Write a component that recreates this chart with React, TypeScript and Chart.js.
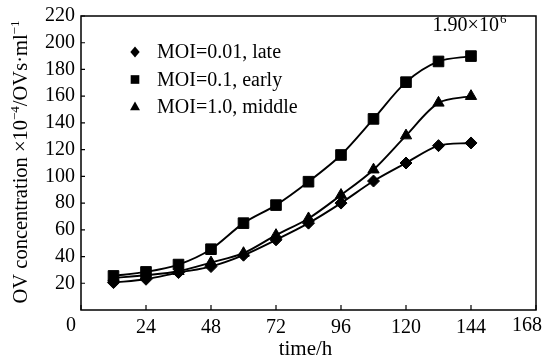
import React, { useEffect, useRef } from "react";
import { Chart, registerables } from "chart.js";

Chart.register(...registerables);

const timesH = [12, 24, 36, 48, 60, 72, 84, 96, 108, 120, 132, 144];
const moiLate = [20.5, 23, 28, 32.5, 41, 52.5, 65, 80, 96.5, 110, 123, 125];
const moiEarly = [25.5, 28.5, 34, 45.5, 65, 78.5, 96, 116, 143, 170.5, 186, 190];
const moiMiddle = [24, 26, 29, 35.5, 42.5, 56, 68.5, 86, 105, 130.5, 155, 160];
const seriesLabels = ["MOI=0.01, late", "MOI=0.1, early", "MOI=1.0, middle"];
const xTicks = [0, 24, 48, 72, 96, 120, 144, 168];
const yTicks = [20, 40, 60, 80, 100, 120, 140, 160, 180, 200, 220];
const xTitle = "time/h";
const peakNote = { base: "1.90×10", sup: "6" };

const FONT = "'Liberation Serif', 'Times New Roman', serif";

function drawMarker(ctx: CanvasRenderingContext2D, style: string, x: number, y: number, r: number) {
  ctx.beginPath();
  if (style === "rect") {
    ctx.rect(x - r * 0.72, y - r * 0.72, r * 1.44, r * 1.44);
  } else if (style === "rectRot") {
    ctx.moveTo(x, y - r);
    ctx.lineTo(x + r * 0.85, y);
    ctx.lineTo(x, y + r);
    ctx.lineTo(x - r * 0.85, y);
    ctx.closePath();
  } else {
    ctx.moveTo(x, y - r);
    ctx.lineTo(x + r * 0.9, y + r * 0.6);
    ctx.lineTo(x - r * 0.9, y + r * 0.6);
    ctx.closePath();
  }
  ctx.fill();
}

const overlay = {
  id: "overlay",
  afterDraw(chart: any) {
    const { ctx, chartArea: a, scales } = chart;
    const xs = scales.x;
    const ys = scales.y;
    ctx.save();
    // frame
    ctx.strokeStyle = "#000";
    ctx.lineWidth = 1.5;
    ctx.strokeRect(a.left, a.top, a.right - a.left, a.bottom - a.top);
    // inward ticks
    ctx.lineWidth = 1.2;
    ctx.beginPath();
    xTicks.forEach((t) => {
      const px = xs.getPixelForValue(t);
      ctx.moveTo(px, a.bottom);
      ctx.lineTo(px, a.bottom - 5);
    });
    yTicks.forEach((t) => {
      const py = ys.getPixelForValue(t);
      ctx.moveTo(a.left, py);
      ctx.lineTo(a.left + 4, py);
    });
    ctx.stroke();

    // corner labels "0" and last x label
    ctx.fillStyle = "#000";
    ctx.font = `20px ${FONT}`;
    ctx.textAlign = "right";
    ctx.textBaseline = "middle";
    ctx.fillText("0", a.left - 5, a.bottom + 16);
    ctx.textAlign = "center";
    ctx.fillText(String(xTicks[xTicks.length - 1]), xs.getPixelForValue(xTicks[xTicks.length - 1]) - 9, a.bottom + 16);

    // x-axis title
    ctx.font = `21px ${FONT}`;
    ctx.textAlign = "center";
    ctx.fillText(xTitle, (a.left + a.right) / 2 - 3, 349);

    // legend
    const legendX = 135;
    const legendY0 = 52;
    const rowH = 27.5;
    chart.data.datasets.forEach((ds: any, i: number) => {
      const y = legendY0 + i * rowH;
      ctx.fillStyle = "#000";
      const r = ds.pointStyle === "rect" ? 6 : 5.5;
      drawMarker(ctx, ds.pointStyle, legendX, y, r);
      ctx.font = `20px ${FONT}`;
      ctx.textAlign = "left";
      ctx.textBaseline = "middle";
      ctx.fillText(ds.label, 157, y + 1);
    });

    // peak annotation
    const px = xs.getPixelForValue(144);
    const py = ys.getPixelForValue(190);
    ctx.font = `20px ${FONT}`;
    ctx.textAlign = "left";
    ctx.textBaseline = "alphabetic";
    const baseW = ctx.measureText(peakNote.base).width;
    ctx.font = `13px ${FONT}`;
    const supW = ctx.measureText(peakNote.sup).width;
    const startX = px - (baseW + supW) / 2 - 2;
    const baseY = py - 25;
    ctx.font = `20px ${FONT}`;
    ctx.fillText(peakNote.base, startX, baseY);
    ctx.font = `13px ${FONT}`;
    ctx.fillText(peakNote.sup, startX + baseW + 1, baseY - 8);

    // y-axis title, rotated with superscripts
    const parts: [string, boolean][] = [
      ["OV concentration ×10", false],
      ["−4", true],
      ["/OVs·ml", false],
      ["−1", true],
    ];
    const mainF = `20.5px ${FONT}`;
    const supF = `13px ${FONT}`;
    let total = 0;
    parts.forEach(([s, sup]) => {
      ctx.font = sup ? supF : mainF;
      total += ctx.measureText(s).width;
    });
    ctx.translate(27, (a.top + a.bottom) / 2 - 1);
    ctx.rotate(-Math.PI / 2);
    let cx = -total / 2;
    parts.forEach(([s, sup]) => {
      ctx.font = sup ? supF : mainF;
      ctx.fillText(s, cx, sup ? -8 : 0);
      cx += ctx.measureText(s).width;
    });
    ctx.restore();
  },
};

export default function App() {
  const ref = useRef<HTMLCanvasElement | null>(null);
  useEffect(() => {
    document.body.style.margin = "0";
    const mk = (label: string, data: number[], style: string, radius: number) => ({
      label,
      data: timesH.map((t, i) => ({ x: t, y: data[i] })),
      borderColor: "#000",
      backgroundColor: "#000",
      borderWidth: 1.9,
      pointStyle: style,
      pointRadius: radius,
      pointBorderWidth: 1,
      pointBackgroundColor: "#000",
      pointBorderColor: "#000",
      tension: 0.3,
      fill: false,
    });
    const chart = new Chart(ref.current!, {
      type: "line",
      data: {
        datasets: [
          mk(seriesLabels[0], moiLate, "rectRot", 6),
          mk(seriesLabels[1], moiEarly, "rect", 7.5),
          mk(seriesLabels[2], moiMiddle, "triangle", 6.5),
        ],
      },
      options: {
        animation: false,
        responsive: false,
        layout: { padding: { top: 16, right: 14, left: 0, bottom: 0 } },
        plugins: { legend: { display: false }, tooltip: { enabled: false } },
        scales: {
          x: {
            type: "linear",
            min: 0,
            max: 168,
            afterBuildTicks: (s: any) => {
              s.ticks = xTicks.map((v) => ({ value: v }));
            },
            afterFit: (s: any) => {
              s.height = 54;
              s.paddingLeft = 0;
              s.paddingRight = 0;
            },
            grid: { display: false, drawTicks: false },
            border: { display: false },
            ticks: {
              color: "#000",
              font: { family: FONT, size: 20 },
              padding: 6,
              maxRotation: 0,
              callback: (v: any) => (v === 0 || v === 168 ? "" : String(v)),
            },
          },
          y: {
            type: "linear",
            min: 0,
            max: 220,
            afterBuildTicks: (s: any) => {
              s.ticks = yTicks.map((v) => ({ value: v }));
            },
            afterFit: (s: any) => {
              s.width = 81;
              s.paddingTop = 0;
              s.paddingBottom = 0;
            },
            grid: { display: false, drawTicks: false },
            border: { display: false },
            ticks: {
              color: "#000",
              font: { family: FONT, size: 20 },
              padding: 6,
            },
          },
        },
      },
      plugins: [overlay],
    } as any);
    return () => chart.destroy();
  }, []);
  return (
    <div style={{ position: "fixed", left: 0, top: 0, width: 550, height: 364, background: "#fff" }}>
      <canvas ref={ref} width={550} height={364} />
    </div>
  );
}
